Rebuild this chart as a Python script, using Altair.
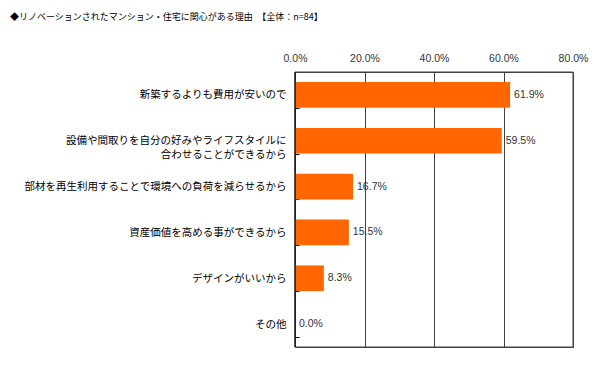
import altair as alt
import pandas as pd

categories = [
    "新築するよりも費用が安いので",
    "設備や間取りを自分の好みやライフスタイルに|合わせることができるから　　　",
    "部材を再生利用することで環境への負荷を減らせるから",
    "資産価値を高める事ができるから",
    "デザインがいいから",
    "その他",
]
values = [61.9, 59.5, 16.7, 15.5, 8.3, 0.0]
x_ticks = [0, 20, 40, 60, 80]
title_main = "◆リノベーションされたマンション・住宅に関心がある理由　【全体：n=84】"

df = pd.DataFrame({"category": categories, "value": values})

JP = "Noto Sans CJK JP"

y_enc = alt.Y(
    "category:N",
    sort=categories,
    scale=alt.Scale(paddingInner=0.44, paddingOuter=0.22),
    axis=alt.Axis(
        title=None,
        orient="left",
        domain=False,
        ticks=True,
        tickBand="extent",
        tickSize=4,
        tickColor="#000000",
        offset=-4,
        labelPadding=9,
        labelFont=JP,
        labelFontSize=10.5,
        labelColor="#000000",
        labelLimit=400,
        labelLineHeight=14,
        labelAlign="right",
        labelExpr="split(datum.label, '|')",
    ),
)

x_enc = alt.X(
    "value:Q",
    scale=alt.Scale(domain=[0, 80], nice=False),
    axis=alt.Axis(
        title=None,
        orient="top",
        values=x_ticks,
        labelExpr="format(datum.value, '.1f') + '%'",
        grid=True,
        gridColor="#404040",
        gridWidth=1,
        domain=False,
        ticks=False,
        labelPadding=9,
        labelFlush=False,
        labelFont="Liberation Sans",
        labelFontSize=10.5,
        labelColor="#333333",
    ),
)

bars = alt.Chart(df).mark_bar(color="#FF6600").encode(x=x_enc, y=y_enc)

labels = alt.Chart(df).transform_calculate(
    lab="format(datum.value, '.1f') + '%'"
).mark_text(
    align="left", baseline="middle", dx=4, font="Liberation Sans", fontSize=10.5, color="#333333"
).encode(
    x=alt.X("value:Q"),
    y=alt.Y("category:N", sort=categories),
    text="lab:N",
)

frame = alt.Chart(pd.DataFrame({"f": [0]})).mark_rect(
    fill=None, stroke="#404040", strokeWidth=1
).encode(
    x=alt.value(0), x2=alt.value("width"), y=alt.value(0), y2=alt.value("height")
)

left_line = alt.Chart(pd.DataFrame({"f": [0]})).mark_rule(
    color="#000000", strokeWidth=1
).encode(
    x=alt.value(0), y=alt.value(0), y2=alt.value("height")
)

title = alt.Chart(pd.DataFrame({"t": [title_main]})).mark_text(
    align="left", baseline="middle", font=JP, fontSize=9, color="#000000"
).encode(
    text="t:N",
    x=alt.value(-285),
    y=alt.value(-55),
)

chart = alt.layer(bars, labels, frame, left_line, title).properties(
    width=278,
    height=275,
    background="#ffffff",
    autosize=alt.AutoSizeParams(type="none"),
    padding={"left": 287, "top": 64, "right": 27, "bottom": 16},
).configure_view(
    stroke="#404040", strokeWidth=1
)

chart.save("out.html", embed_options={"renderer": "svg", "actions": False})
